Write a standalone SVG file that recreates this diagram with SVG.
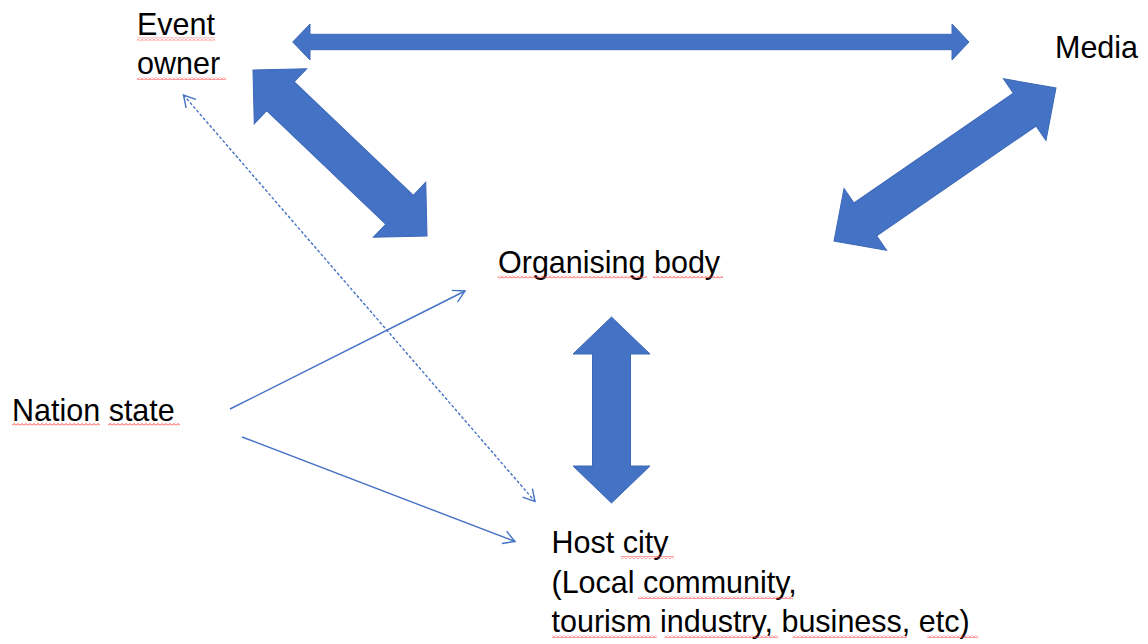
<svg xmlns="http://www.w3.org/2000/svg" width="1148" height="644" viewBox="0 0 1148 644">
  <style>
    .lbl { font-family: "Liberation Sans", Arial, sans-serif; font-size: 30.5px; fill: #000; }
    .big { fill: #4472C4; stroke: #3D68B8; stroke-width: 1; stroke-linejoin: miter; }
    .thin { fill: none; stroke: #4472C4; stroke-width: 1.4; }
    .dot { stroke-dasharray: 3 2; }
    .sq { fill: url(#squig); }
  </style>
  <defs>
    <pattern id="squig" patternUnits="userSpaceOnUse" width="4" height="3">
      <path d="M0 2.5 L2 0.5 L4 2.5" fill="none" stroke="#FF3B3B" stroke-width="1"/>
    </pattern>
    <marker id="open" markerUnits="userSpaceOnUse" markerWidth="20" markerHeight="20" refX="0" refY="0" viewBox="-14 -10 16 20" orient="auto-start-reverse">
      <path d="M-11.5,-6.5 L0,0 L-11.5,6.5" fill="none" stroke="#4472C4" stroke-width="1.4"/>
    </marker>
  </defs>
  <rect width="1148" height="644" fill="#FFFFFF"/>

  <g id="connectors">
    <polygon class="big" points="292.7,42 310,24 310,34.3 952,34.3 952,24 969,42 952,60 952,49.7 310,49.7 310,60"/>
    <polygon class="big" transform="translate(253,70) rotate(43.65)" points="0,0 38,-38 38,-20 202.5,-20 202.5,-38 240.5,0 202.5,38 202.5,20 38,20 38,38"/>
    <polygon class="big" transform="translate(834,241) rotate(-34.57)" points="0,0 38,-37.5 38,-20 231.6,-20 231.6,-37.5 269.6,0 231.6,37.5 231.6,20 38,20 38,37.5"/>
    <polygon class="big" points="611.5,317 650,354 630.5,354 630.5,466 650,466 611.5,503 573,466 592.5,466 592.5,354 573,354"/>
    <line class="thin" x1="230" y1="409" x2="465" y2="291" marker-end="url(#open)"/>
    <line class="thin" x1="242" y1="437" x2="515" y2="541.5" marker-end="url(#open)"/>
    <line class="thin dot" x1="183.5" y1="95" x2="535" y2="501.5" marker-start="url(#open)" marker-end="url(#open)"/>
  </g>

  <g id="event-owner">
    <text class="lbl" x="137" y="35">Event</text>
    <text class="lbl" x="137" y="74">owner</text>
    <rect class="sq" x="137" y="37.5" width="78" height="3"/>
    <rect class="sq" x="137" y="77" width="89" height="3"/>
  </g>

  <g id="media">
    <text class="lbl" x="1055" y="58">Media</text>
  </g>

  <g id="organising-body">
    <text class="lbl" x="498" y="273">Organising body</text>
    <rect class="sq" x="498" y="275.5" width="149" height="3"/>
    <rect class="sq" x="653" y="275.5" width="70" height="3"/>
  </g>

  <g id="nation-state">
    <text class="lbl" x="12" y="421">Nation state</text>
    <rect class="sq" x="12" y="423" width="88" height="3"/>
    <rect class="sq" x="108" y="423" width="72" height="3"/>
  </g>

  <g id="host-city">
    <text class="lbl" x="551.5" y="553">Host city</text>
    <text class="lbl" x="551.5" y="593">(Local community,</text>
    <text class="lbl" x="551.5" y="632">tourism industry, business, etc)</text>
    <rect class="sq" x="621" y="556" width="53" height="3"/>
    <rect class="sq" x="638" y="596" width="155" height="3"/>
    <rect class="sq" x="552" y="635" width="105" height="3"/>
    <rect class="sq" x="665" y="635" width="113" height="3"/>
    <rect class="sq" x="793" y="635" width="114" height="3"/>
    <rect class="sq" x="927" y="635" width="51" height="3"/>
  </g>
</svg>
